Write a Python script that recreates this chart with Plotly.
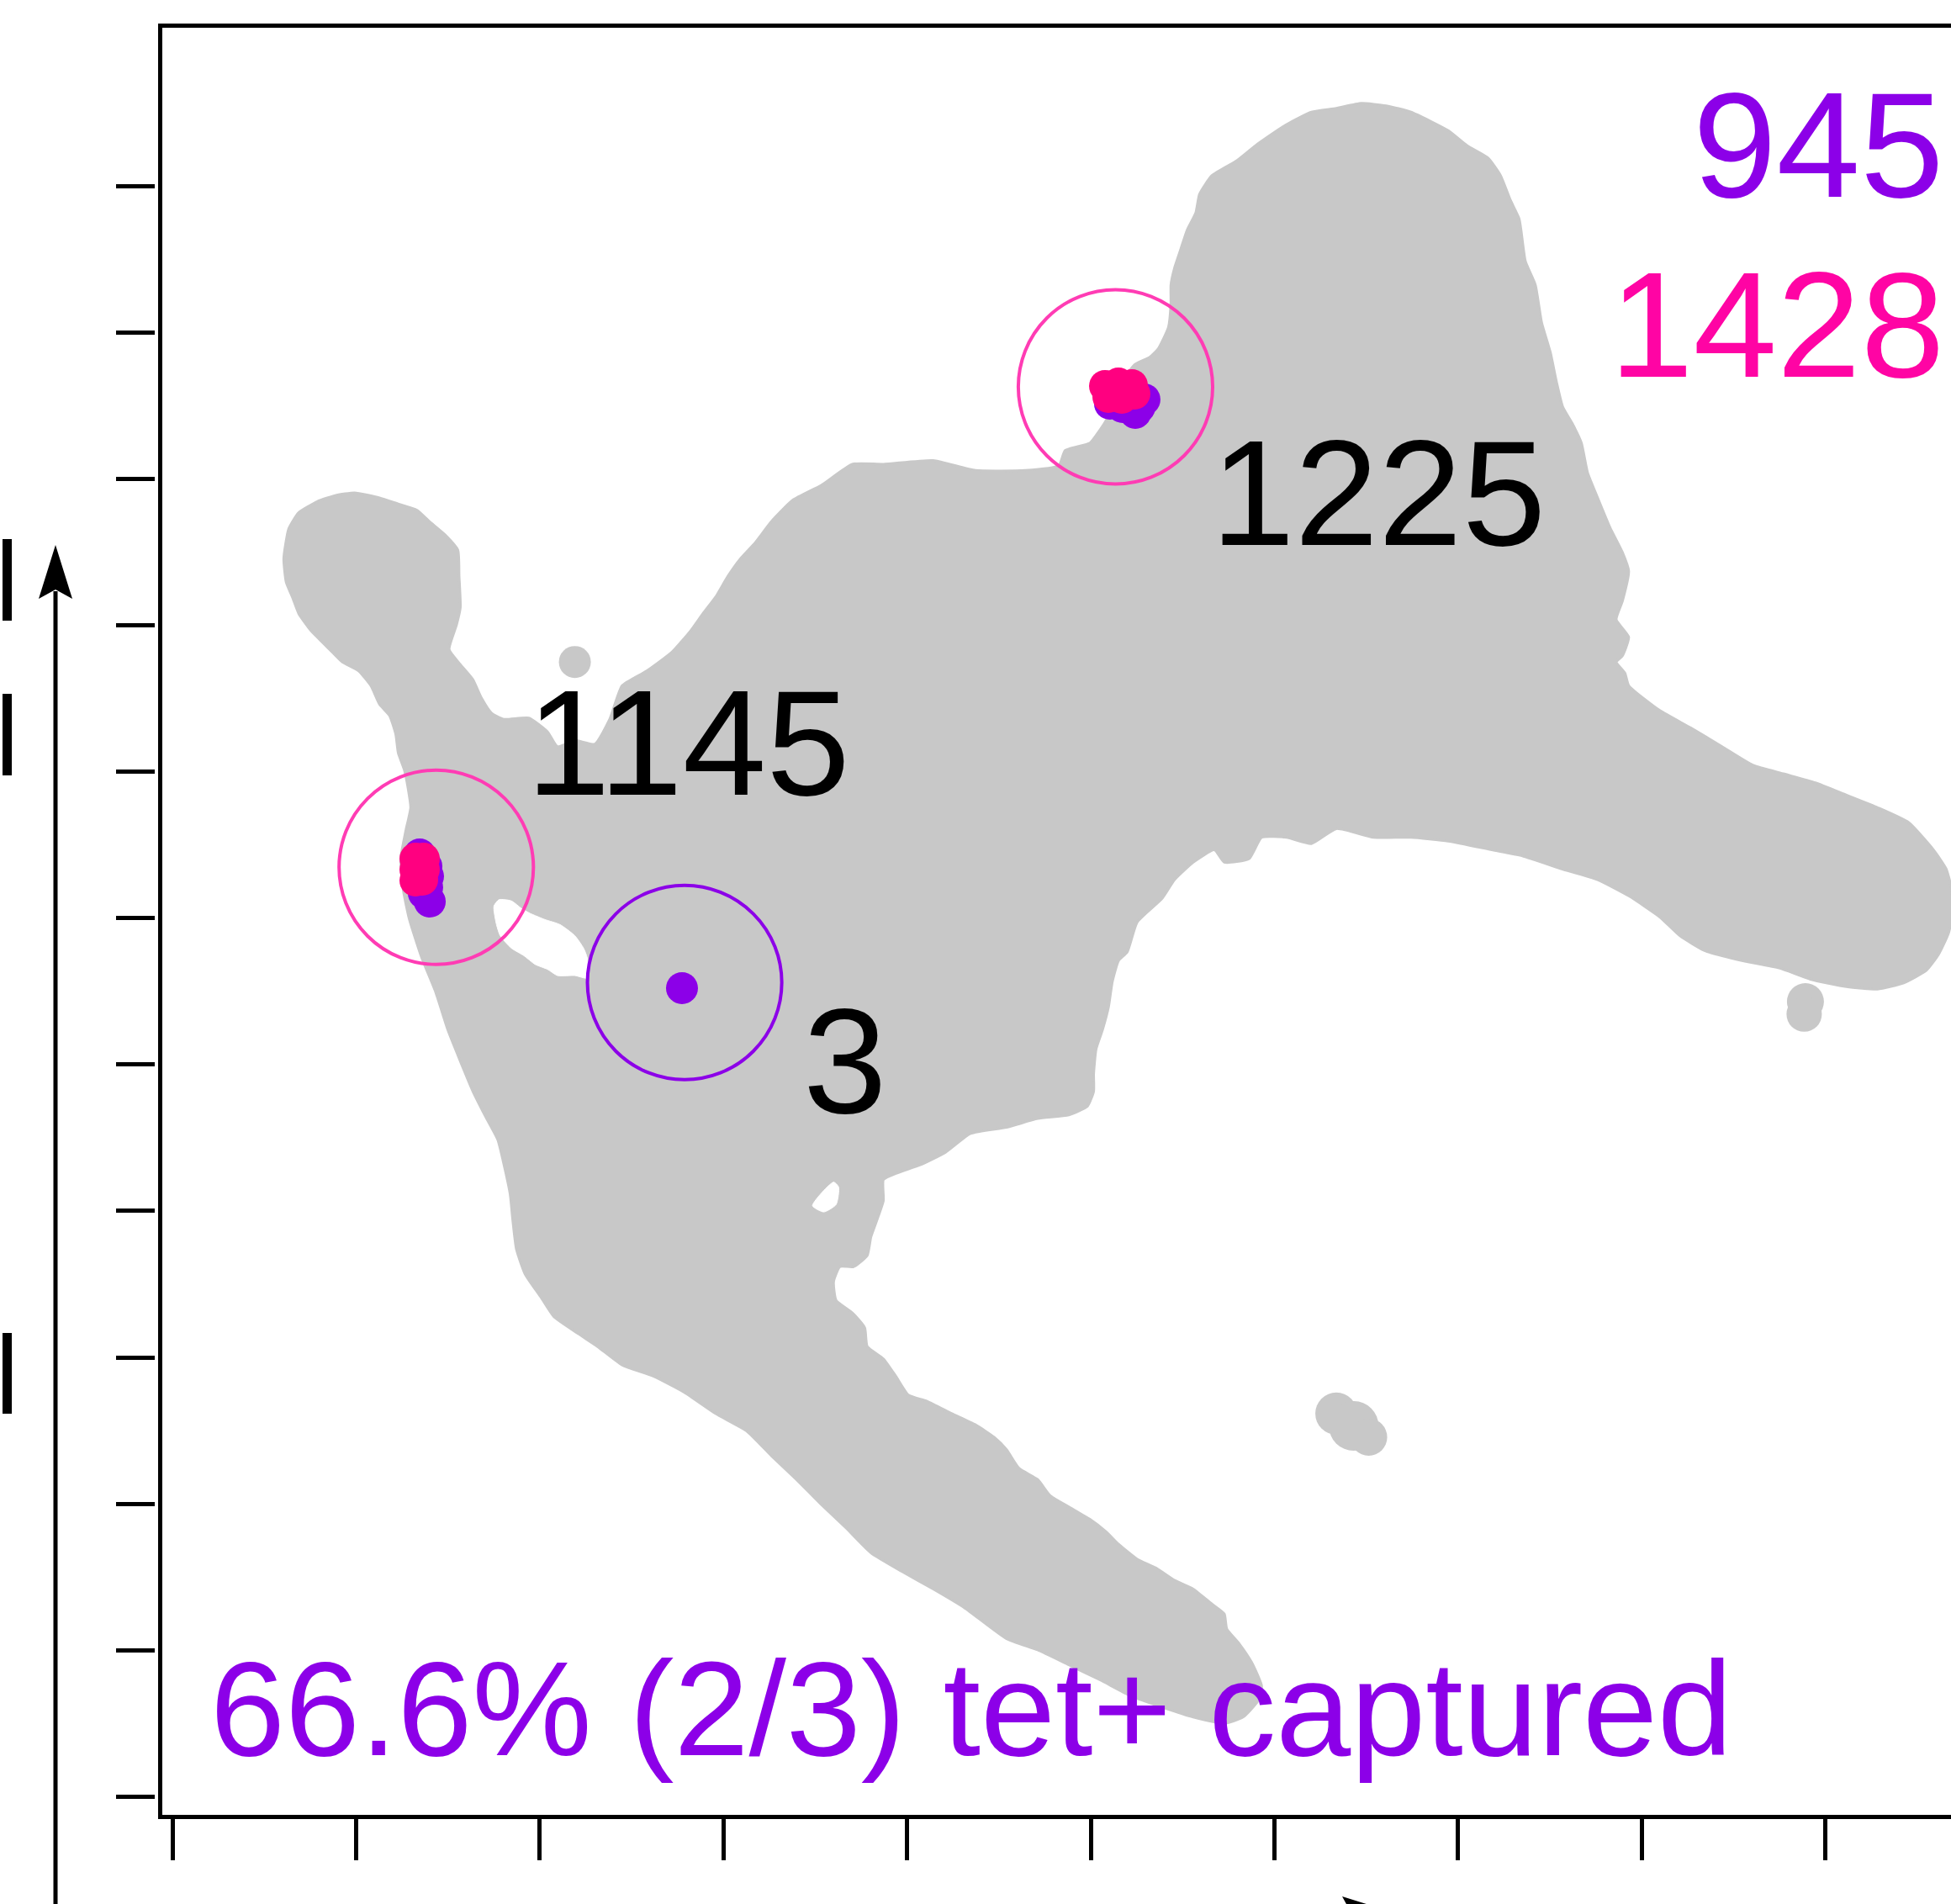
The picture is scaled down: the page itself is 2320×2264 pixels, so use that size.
import plotly.graph_objects as go

# ---------------- data (embedding units) ----------------
# outline of the full cell cloud in the 2-D embedding
cloud_outline = [
    (2.32, 11.05), (2.28, 10.81), (2.30, 10.62), (2.35, 10.50), (2.40, 10.37), (2.50, 10.23),
    (2.65, 10.08), (2.75, 9.98), (2.88, 9.91), (2.98, 9.79), (3.05, 9.64), (3.13, 9.55),
    (3.18, 9.40), (3.20, 9.25), (3.25, 9.11), (3.28, 8.96), (3.30, 8.81), (3.26, 8.62),
    (3.22, 8.40), (3.24, 8.15), (3.29, 7.91), (3.39, 7.60), (3.50, 7.33), (3.60, 7.02),
    (3.70, 6.77), (3.80, 6.53), (3.90, 6.33), (4.00, 6.14), (4.05, 5.94), (4.10, 5.70),
    (4.12, 5.50), (4.15, 5.26), (4.22, 5.06), (4.35, 4.87), (4.45, 4.72), (4.65, 4.58),
    (4.80, 4.48), (5.00, 4.33), (5.25, 4.24), (5.50, 4.11), (5.75, 3.94), (6.00, 3.80),
    (6.20, 3.60), (6.40, 3.41), (6.60, 3.21), (6.80, 3.02), (7.00, 2.82), (7.25, 2.67),
    (7.50, 2.53), (7.75, 2.38), (8.09, 2.13), (8.34, 2.04), (8.59, 1.92), (8.84, 1.80),
    (9.09, 1.67), (9.34, 1.58), (9.59, 1.50), (9.84, 1.45), (9.99, 1.50), (10.11, 1.63),
    (10.14, 1.75), (10.06, 1.94), (9.96, 2.09), (9.86, 2.21), (9.84, 2.33), (9.74, 2.41),
    (9.59, 2.53), (9.44, 2.60), (9.29, 2.70), (9.14, 2.77), (8.99, 2.89), (8.89, 2.99),
    (8.76, 3.09), (8.59, 3.19), (8.44, 3.28), (8.34, 3.41), (8.19, 3.50), (8.09, 3.65),
    (7.99, 3.75), (7.84, 3.85), (7.65, 3.94), (7.45, 4.04), (7.30, 4.09), (7.20, 4.24),
    (7.10, 4.38), (6.97, 4.48), (6.95, 4.63), (6.85, 4.75), (6.72, 4.85), (6.70, 5.00),
    (6.75, 5.12), (6.86, 5.12), (6.97, 5.21), (7.00, 5.36), (7.05, 5.50), (7.10, 5.65),
    (7.10, 5.82), (7.20, 5.87), (7.40, 5.94), (7.60, 6.04), (7.80, 6.19), (8.09, 6.24),
    (8.34, 6.31), (8.59, 6.34), (8.74, 6.41), (8.79, 6.53), (8.79, 6.67), (8.81, 6.87),
    (8.86, 7.02), (8.91, 7.21), (8.94, 7.41), (8.99, 7.58), (9.06, 7.65), (9.14, 7.89),
    (9.34, 8.08), (9.44, 8.23), (9.59, 8.37), (9.76, 8.47), (9.84, 8.37), (10.04, 8.40),
    (10.14, 8.57), (10.34, 8.57), (10.54, 8.52), (10.74, 8.64), (11.04, 8.57), (11.34, 8.57),
    (11.64, 8.54), (11.99, 8.47), (12.24, 8.42), (12.54, 8.32), (12.84, 8.23), (13.09, 8.10),
    (13.34, 7.93), (13.50, 7.78), (13.70, 7.66), (14.00, 7.58), (14.30, 7.52), (14.55, 7.43),
    (14.84, 7.37), (15.09, 7.35), (15.30, 7.40), (15.48, 7.50), (15.58, 7.63), (15.66, 7.80),
    (15.70, 8.00), (15.68, 8.18), (15.64, 8.32), (15.54, 8.47), (15.34, 8.69), (15.09, 8.81),
    (14.84, 8.91), (14.59, 9.01), (14.34, 9.08), (14.09, 9.15), (13.84, 9.30), (13.59, 9.45),
    (13.34, 9.59), (13.09, 9.79), (13.06, 9.89), (12.99, 9.98), (13.04, 10.03), (13.09, 10.18),
    (12.99, 10.32), (13.04, 10.47), (13.09, 10.71), (13.04, 10.86), (12.94, 11.06), (12.84, 11.30),
    (12.76, 11.50), (12.71, 11.74), (12.64, 11.89), (12.56, 12.03), (12.51, 12.23), (12.46, 12.47),
    (12.39, 12.71), (12.34, 13.01), (12.26, 13.20), (12.21, 13.54), (12.14, 13.69), (12.06, 13.89),
    (11.96, 14.03), (11.79, 14.13), (11.64, 14.25), (11.34, 14.40), (11.14, 14.45), (10.94, 14.47),
    (10.74, 14.43), (10.54, 14.40), (10.34, 14.30), (10.09, 14.13), (9.94, 14.01), (9.74, 13.89),
    (9.64, 13.74), (9.61, 13.59), (9.54, 13.45), (9.49, 13.30), (9.44, 13.15), (9.41, 13.01),
    (9.41, 12.86), (9.39, 12.67), (9.31, 12.50), (9.24, 12.43), (9.12, 12.37), (9.03, 12.25),
    (8.95, 12.05), (8.90, 11.94), (8.83, 11.83), (8.76, 11.74), (8.56, 11.68), (8.51, 11.56),
    (8.24, 11.52), (7.84, 11.52), (7.50, 11.60), (7.10, 11.57), (6.85, 11.57), (6.60, 11.40),
    (6.37, 11.28), (6.20, 11.11), (6.07, 10.94), (5.95, 10.81), (5.85, 10.67), (5.75, 10.50),
    (5.65, 10.37), (5.55, 10.23), (5.40, 10.06), (5.20, 9.91), (5.00, 9.79), (4.90, 9.52),
    (4.78, 9.32), (4.62, 9.35), (4.48, 9.30), (4.40, 9.42), (4.25, 9.53), (4.05, 9.52),
    (3.95, 9.57), (3.87, 9.69), (3.80, 9.84), (3.70, 9.96), (3.61, 10.08), (3.67, 10.28),
    (3.70, 10.42), (3.69, 10.67), (3.68, 10.88), (3.58, 11.00), (3.45, 11.11), (3.35, 11.20),
    (3.20, 11.25), (3.05, 11.30), (2.85, 11.34), (2.70, 11.32), (2.55, 11.27), (2.40, 11.18),
]

# empty pockets inside the cloud
pocket_outline = [
    (3.97, 8.02), (4.01, 8.07), (4.11, 8.06), (4.19, 8.00), (4.26, 7.96), (4.38, 7.91),
    (4.50, 7.87), (4.62, 7.78), (4.69, 7.68), (4.72, 7.60), (4.72, 7.44), (4.62, 7.46),
    (4.48, 7.46), (4.40, 7.51), (4.30, 7.55), (4.21, 7.62), (4.11, 7.68), (4.02, 7.78),
    (3.99, 7.87), (3.97, 7.98),
]
notch_outline = [
    (6.53, 5.61), (6.60, 5.71), (6.70, 5.80), (6.74, 5.76), (6.72, 5.62), (6.62, 5.56),
]

# small detached groups of cells
island_x = [4.62, 14.51, 14.50, 10.74, 10.88, 11.00]
island_y = [9.98, 7.25, 7.15, 3.94, 3.84, 3.75]
island_px = [38, 44, 42, 50, 59, 44]

# tetramer+ cells (purple)
tet_x = [3.373, 3.427, 3.440, 3.433, 3.454, 3.406,
         9.090, 9.198, 9.124, 9.023, 8.921, 9.158,
         5.481]
tet_y = [8.433, 8.339, 8.258, 8.170, 8.055, 8.122,
         12.191, 12.090, 11.982, 12.029, 12.056, 12.029,
         7.359]
# clonotype cells (pink)
clone_x = [3.339, 3.406, 3.339, 3.406, 3.339, 3.393, 3.373, 3.373,
           8.881, 8.989, 9.097, 9.117, 8.908, 9.016, 8.962, 9.056]
clone_y = [8.399, 8.399, 8.312, 8.312, 8.224, 8.230, 8.352, 8.271,
           12.198, 12.218, 12.205, 12.137, 12.110, 12.103, 12.150, 12.150]

# highlighted regions: centre x, centre y, radius, group
highlight_cx = [8.965, 3.506, 5.502]
highlight_cy = [12.191, 8.330, 7.404]
highlight_r = [0.781, 0.781, 0.781]
highlight_group = ["clone", "clone", "tet"]

# cluster sizes and their label anchors
cluster_labels = ["1225", "1145", "3"]
cluster_label_x = [9.732, 4.232, 6.457]
cluster_label_y = [11.340, 9.331, 6.777]

tet_count, clone_count = 945, 1428
capture_text = "66.6% (2/3) tet+ captured"

x_ticks = [1.386, 2.862, 4.338, 5.814, 7.290, 8.766, 10.242, 11.718, 13.194, 14.670]
y_ticks = [13.804, 12.628, 11.451, 10.274, 9.098, 7.921, 6.744, 5.568, 4.391, 3.214, 2.038, 0.861]

# ---------------- styling ----------------
W, H = 2320, 2264
GREY = "#C8C8C8"
PURPLE = "#8C00E8"
PINK_DOT = "#FF0080"
PINK_TEXT = "#FF04A4"
PINK_RING = "#FF3CB4"
FONT = "Liberation Sans, Arial, sans-serif"


def fx(p):
    return p / W


def fy(p):
    return 1 - p / H


def closed(outline):
    xs = [p[0] for p in outline] + [outline[0][0]]
    ys = [p[1] for p in outline] + [outline[0][1]]
    return xs, ys


fig = go.Figure()

cx_, cy_ = closed(cloud_outline)
fig.add_trace(go.Scatter(
    x=cx_, y=cy_, mode="lines", fill="toself", fillcolor=GREY,
    line=dict(color=GREY, width=3, shape="spline", smoothing=0.5),
    hoverinfo="skip",
))
fig.add_trace(go.Scatter(
    x=island_x, y=island_y, mode="markers",
    marker=dict(color=GREY, size=island_px, opacity=1, line=dict(width=0)),
    hoverinfo="skip",
))
for outline in (pocket_outline, notch_outline):
    px_, py_ = closed(outline)
    fig.add_trace(go.Scatter(
        x=px_, y=py_, mode="lines", fill="toself", fillcolor="white",
        line=dict(color="white", width=1, shape="spline", smoothing=0.6),
        hoverinfo="skip",
    ))
fig.add_trace(go.Scatter(
    x=tet_x, y=tet_y, mode="markers",
    marker=dict(color=PURPLE, size=38, opacity=1, line=dict(width=0)),
    hoverinfo="skip",
))
fig.add_trace(go.Scatter(
    x=clone_x, y=clone_y, mode="markers",
    marker=dict(color=PINK_DOT, size=38, opacity=1, line=dict(width=0)),
    hoverinfo="skip",
))

shapes = []
for cx, cy, r, g in zip(highlight_cx, highlight_cy, highlight_r, highlight_group):
    shapes.append(dict(
        type="circle", xref="x", yref="y",
        x0=cx - r, x1=cx + r, y0=cy - r, y1=cy + r,
        line=dict(color=PINK_RING if g == "clone" else PURPLE, width=4),
        layer="above",
    ))

# axis arrows drawn in the margin
shapes.append(dict(type="line", xref="paper", yref="paper",
                   x0=fx(66), x1=fx(66), y0=fy(2275), y1=fy(703),
                   line=dict(color="black", width=5)))
shapes.append(dict(type="line", xref="paper", yref="paper",
                   x0=fx(66), x1=fx(1610), y0=fy(2275), y1=fy(2275),
                   line=dict(color="black", width=5)))
shapes.append(dict(
    type="path", xref="paper", yref="paper", fillcolor="black", line=dict(width=0),
    path=f"M {fx(66)} {fy(648)} L {fx(86)} {fy(712)} L {fx(66)} {fy(701)} L {fx(46)} {fy(712)} Z",
))
shapes.append(dict(
    type="path", xref="paper", yref="paper", fillcolor="black", line=dict(width=0),
    path=f"M {fx(1660)} {fy(2275)} L {fx(1596)} {fy(2255)} L {fx(1607)} {fy(2275)} L {fx(1596)} {fy(2295)} Z",
))
# clipped axis-title glyph stems at the left edge
for top, bottom in [(641, 738), (825, 922), (1585, 1681)]:
    shapes.append(dict(type="rect", xref="paper", yref="paper",
                       x0=fx(3), x1=fx(14), y0=fy(bottom), y1=fy(top),
                       fillcolor="black", line=dict(width=0)))

annotations = [
    dict(text=str(tet_count), x=15.625, y=14.138, xanchor="right", yanchor="middle",
         font=dict(family=FONT, size=179, color=PURPLE)),
    dict(text=str(clone_count), x=15.625, y=12.689, xanchor="right", yanchor="middle",
         font=dict(family=FONT, size=179, color=PINK_TEXT)),
    dict(text=capture_text, x=1.690, y=1.569, xanchor="left", yanchor="middle",
         font=dict(family=FONT, size=160, color=PURPLE)),
]
for t, x, y in zip(cluster_labels, cluster_label_x, cluster_label_y):
    annotations.append(dict(text=t, x=x, y=y, xanchor="left", yanchor="middle",
                            font=dict(family=FONT, size=179, color="black")))
for a in annotations:
    a.update(xref="x", yref="y", showarrow=False, borderpad=0, borderwidth=0)

fig.update_layout(
    width=W, height=H,
    margin=dict(l=0, r=0, t=0, b=0, pad=0),
    paper_bgcolor="white", plot_bgcolor="white",
    showlegend=False, hovermode=False,
    shapes=shapes, annotations=annotations,
    xaxis=dict(
        domain=[192.5 / W, 1.0], range=[1.3010, 15.680],
        showline=True, linewidth=5, linecolor="black", mirror=True,
        ticks="outside", tickvals=x_ticks, ticklen=49, tickwidth=5, tickcolor="black",
        showticklabels=False, showgrid=False, zeroline=False,
    ),
    yaxis=dict(
        domain=[1 - 2157.5 / H, 1 - 32.5 / H], range=[0.7183, 15.0803],
        showline=True, linewidth=5, linecolor="black", mirror=False,
        ticks="", showticklabels=False, showgrid=False, zeroline=False,
    ),
    yaxis2=dict(
        overlaying="y", anchor="free", position=184 / W, side="left",
        range=[0.7183, 15.0803], showline=False,
        ticks="outside", tickvals=y_ticks, ticklen=46, tickwidth=5, tickcolor="black",
        showticklabels=False, showgrid=False, zeroline=False,
    ),
)
# a hidden trace so the tick-only axis is rendered
fig.add_trace(go.Scatter(x=[None], y=[None], yaxis="y2", hoverinfo="skip"))

fig.write_html("out.html")
